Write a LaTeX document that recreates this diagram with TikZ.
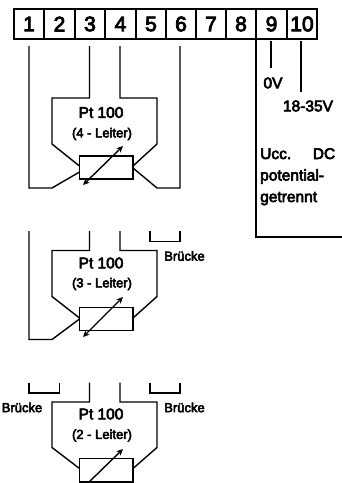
\documentclass[tikz,border=0pt]{standalone}
\usepackage{fontspec}
\setmainfont[FakeBold=4]{Liberation Sans}
\usetikzlibrary{arrows.meta}
\tikzset{
  wire/.style={line width=1.4pt,line join=miter},
  cell/.style={draw,line width=1.4pt,inner sep=0pt,minimum height=30pt,font=\fontsize{21}{21}\selectfont},
  res/.style={draw,line width=1.4pt,inner sep=0pt,minimum width=53.5pt,fill=white},
  vararrow/.style={line width=1.4pt,{Stealth[length=6.5pt,width=6pt]}-{Stealth[length=6.5pt,width=6pt]}},
  big/.style={inner sep=0pt,font=\fontsize{15.5}{15.5}\selectfont},
  small/.style={inner sep=0pt,font=\fontsize{13}{13}\selectfont},
}
\begin{document}
\begin{tikzpicture}[x=1pt,y=-1pt]
\useasboundingbox (0,0) rectangle (342,483);
% terminals
\foreach \n/\l/\r in {1/14/44,2/44/75,3/75/105,4/105/136,5/136/166,6/166/196,7/196/226,8/226/256,9/256/287,10/287/317}{
  \node[cell,minimum width={(\r-\l)*1pt}] (t\n) at ({(\l+\r)/2},24) {\n};
}
% supply
\coordinate (a9) at (271,41); \coordinate (b9) at (271,68);
\coordinate (a10) at (301,41); \coordinate (b10) at (301,92);
\draw[wire] (a9) -- (b9);
\draw[wire] (a10) -- (b10);
\node[big] (v0) at (273,83) {0V};
\node[big] (v18) at (308,106) {18-35V};
\coordinate (sup) at (256,39); \coordinate (supc) at (256,237); \coordinate (supe) at (342,237);
\draw[wire] (sup) -- (supc) -- (supe);
\node[big,anchor=north west,text width=75pt,align=left] (ucc) at (260,148) {\baselineskip=21.5pt Ucc.\hfill DC\\potential-\\getrennt\par};
% 4-wire
\node[res,minimum height=23pt] (r1) at (106.25,167.5) {};
\coordinate (w1a) at (29,46); \coordinate (w1b) at (29,188); \coordinate (w1c) at (52,188); \coordinate (w1d) at (79.5,172);
\coordinate (w3a) at (89.5,46); \coordinate (w3b) at (89.5,98); \coordinate (w3c) at (52,98); \coordinate (w3d) at (52,144); \coordinate (w3e) at (79.5,166);
\coordinate (w4a) at (120,46); \coordinate (w4b) at (120,98); \coordinate (w4c) at (157,98); \coordinate (w4d) at (157,144); \coordinate (w4e) at (133,166);
\coordinate (w6a) at (180,46); \coordinate (w6b) at (180,188); \coordinate (w6c) at (157,188); \coordinate (w6d) at (133,168);
\draw[wire] (w1a) -- (w1b) -- (w1c) -- (w1d);
\draw[wire] (w3a) -- (w3b) -- (w3c) -- (w3d) -- (w3e);
\draw[wire] (w4a) -- (w4b) -- (w4c) -- (w4d) -- (w4e);
\draw[wire] (w6a) -- (w6b) -- (w6c) -- (w6d);
\coordinate (p1a) at (83,185); \coordinate (p1b) at (123,146);
\draw[vararrow] (p1a) -- (p1b);
\node[big] (pt1) at (101,112.5) {Pt 100};
\node[small] (l1) at (102,134) {(4 - Leiter)};
% 3-wire
\node[res,minimum height=23pt] (r2) at (106.25,319) {};
\coordinate (m1a) at (29,231); \coordinate (m1b) at (29,339.5); \coordinate (m1c) at (52,339.5); \coordinate (m1d) at (79.5,319);
\coordinate (m3a) at (89.5,231); \coordinate (m3b) at (89.5,250.5); \coordinate (m3c) at (52,250.5); \coordinate (m3d) at (52,296.5); \coordinate (m3e) at (79.5,318);
\coordinate (m4a) at (120,231); \coordinate (m4b) at (120,250.5); \coordinate (m4c) at (157,250.5); \coordinate (m4d) at (157,296.5); \coordinate (m4e) at (133,318);
\coordinate (mba) at (150,231); \coordinate (mbb) at (150,241.5); \coordinate (mbc) at (180,241.5); \coordinate (mbd) at (180,231);
\draw[wire] (m1a) -- (m1b) -- (m1c) -- (m1d);
\draw[wire] (m3a) -- (m3b) -- (m3c) -- (m3d) -- (m3e);
\draw[wire] (m4a) -- (m4b) -- (m4c) -- (m4d) -- (m4e);
\draw[wire] (mba) -- (mbb) -- (mbc) -- (mbd);
\coordinate (p2a) at (83,337); \coordinate (p2b) at (123,297);
\draw[vararrow] (p2a) -- (p2b);
\node[big] (pt2) at (101,263) {Pt 100};
\node[small] (l2) at (102,284) {(3 - Leiter)};
\node[small] (br1) at (184.5,256) {Brücke};
% 2-wire
\node[res,minimum height=23.5pt] (r3) at (106.25,470.25) {};
\coordinate (b3a) at (89.5,382.5); \coordinate (b3b) at (89.5,402); \coordinate (b3c) at (52,402); \coordinate (b3d) at (52,447.5); \coordinate (b3e) at (79.5,468.5);
\coordinate (b4a) at (120,382.5); \coordinate (b4b) at (120,402); \coordinate (b4c) at (157,402); \coordinate (b4d) at (157,447.5); \coordinate (b4e) at (133,468.5);
\coordinate (bla) at (29,382.5); \coordinate (blb) at (29,393); \coordinate (blc) at (59.5,393); \coordinate (bld) at (59.5,382.5);
\coordinate (bra) at (150,382.5); \coordinate (brb) at (150,393); \coordinate (brc) at (180,393); \coordinate (brd) at (180,382.5);
\draw[wire] (b3a) -- (b3b) -- (b3c) -- (b3d) -- (b3e);
\draw[wire] (b4a) -- (b4b) -- (b4c) -- (b4d) -- (b4e);
\draw[wire] (bla) -- (blb) -- (blc) -- (bld);
\draw[wire] (bra) -- (brb) -- (brc) -- (brd);
\coordinate (p3a) at (88,483); \coordinate (p3b) at (123,449);
\draw[wire,-{Stealth[length=6.5pt,width=6pt]}] (p3a) -- (p3b);
\node[big] (pt3) at (101,414) {Pt 100};
\node[small] (l3) at (102,435.5) {(2 - Leiter)};
\node[small] (br2) at (22,407.5) {Brücke};
\node[small] (br3) at (184.5,407.5) {Brücke};
\end{tikzpicture}
\end{document}
